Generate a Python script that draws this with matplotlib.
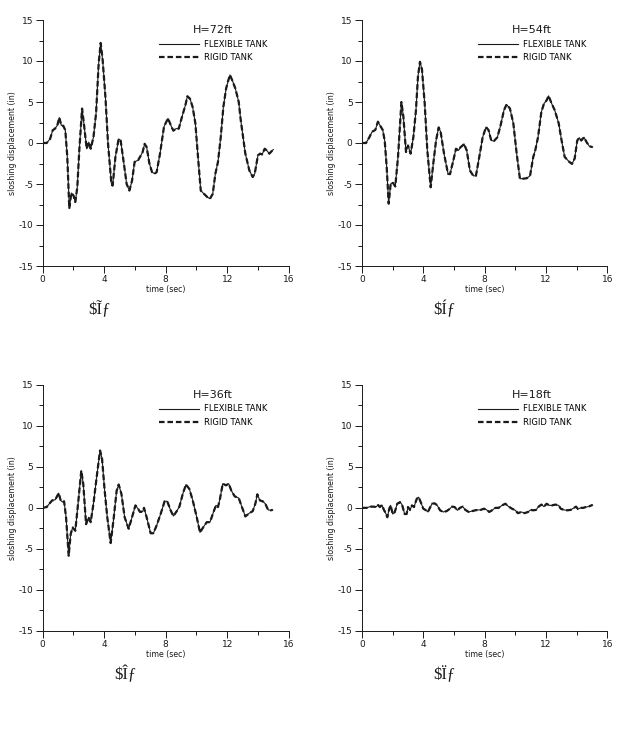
import matplotlib
matplotlib.use('Agg')
import matplotlib.pyplot as plt

plt.rcParams['font.family'] = ['DejaVu Sans']
plt.rcParams['axes.unicode_minus'] = False

# H=72ft (flexible and rigid curves are on top of each other)
t72 = [0, 0.26, 0.48, 0.65, 0.8, 0.95, 1.08, 1.21, 1.34, 1.47, 1.6, 1.73, 1.86, 2.0, 2.12, 2.25,
       2.38, 2.56, 2.69, 2.86, 3.0, 3.12, 3.3, 3.47, 3.64, 3.77, 3.9, 4.08, 4.25, 4.47, 4.55,
       4.73, 4.94, 5.07, 5.25, 5.46, 5.64, 5.81, 5.98, 6.2, 6.33, 6.5, 6.63, 6.76, 6.94, 7.11,
       7.28, 7.41, 7.63, 7.89, 8.15, 8.37, 8.5, 8.67, 8.85, 9.06, 9.28, 9.41, 9.58, 9.75, 9.93,
       10.1, 10.28, 10.49, 10.71, 10.88, 11.06, 11.23, 11.4, 11.58, 11.75, 11.93, 12.05, 12.18,
       12.36, 12.53, 12.75, 12.88, 13.18, 13.44, 13.66, 13.79, 14.0, 14.14, 14.27, 14.44, 14.57,
       14.74, 14.89, 15.0]
flex72 = [0, 0, 0.5, 1.55, 1.75, 2.15, 3.1, 2.15, 2.1, 1.55, -1.7, -8.0, -6.1, -6.4, -7.2, -5.4,
          -0.9, 4.2, 2.2, -0.7, 0.1, -0.7, 0.7, 3.6, 9.7, 12.2, 10.1, 5.6, -0.1, -5.0, -5.2,
          -1.7, 0.5, 0.3, -2.1, -5.0, -5.8, -4.6, -2.3, -2.1, -1.7, -1.1, -0.1, -0.5, -2.5, -3.55,
          -3.75, -3.55, -1.3, 2.0, 3.0, 2.0, 1.5, 1.75, 1.75, 3.2, 4.6, 5.7, 5.4, 4.4, 2.4,
          -1.7, -5.8, -6.2, -6.6, -6.8, -6.2, -3.75, -2.3, 0.7, 4.4, 6.65, 7.5, 8.3,
          7.5, 6.65, 5.0, 2.8, -1.3, -3.35, -4.15, -3.75, -1.5, -1.3, -1.4, -0.7, -0.9,
          -1.3, -1.0, -0.8]
rigid72 = flex72

# H=54ft
t54 = [0, 0.26, 0.48, 0.65, 0.87, 1.04, 1.22, 1.35, 1.48, 1.61, 1.74, 1.87, 2.0, 2.17, 2.35,
       2.57, 2.7, 2.87, 3.0, 3.17, 3.35, 3.52, 3.65, 3.78, 3.91, 4.09, 4.26, 4.48, 4.65, 4.83,
       5.0, 5.13, 5.35, 5.61, 5.74, 5.96, 6.13, 6.3, 6.43, 6.57, 6.65, 6.83, 7.04, 7.26, 7.43,
       7.65, 7.87, 8.09, 8.26, 8.43, 8.61, 8.83, 9.04, 9.26, 9.43, 9.65, 9.87, 10.09, 10.3,
       10.52, 10.74, 10.96, 11.17, 11.3, 11.48, 11.7, 11.87, 12.04, 12.17, 12.35, 12.57, 12.83,
       13.0, 13.22, 13.52, 13.7, 13.87, 14.04, 14.17, 14.3, 14.48, 14.65, 14.83, 15.04]
flex54 = [0, 0, 0.7, 1.35, 1.6, 2.6, 2.0, 1.6, 0.3, -2.9, -7.4, -5.0, -4.8, -5.3, -1.7,
          5.0, 3.2, -1.1, -0.3, -1.3, 0.7, 4.0, 8.1, 9.9, 9.0, 4.8, -0.9, -5.4, -2.5, 0.3,
          1.9, 1.35, -1.3, -3.75, -3.8, -2.1, -0.7, -0.9, -0.5, -0.3, -0.1, -0.9, -3.35, -4.0, -4.0,
          -1.7, 0.7, 1.95, 1.55, 0.3, 0.25, 0.7, 2.15, 4.0, 4.7, 4.2, 2.4, -1.3, -4.35,
          -4.35, -4.3, -4.0, -1.7, -0.9, 0.7, 3.8, 4.8, 5.2, 5.75, 4.9, 4.0, 2.4,
          0.5, -1.7, -2.3, -2.55, -1.9, 0.3, 0.65, 0.3, 0.7, 0.1, -0.4, -0.5]
rigid54 = flex54

# H=36ft
t36 = [0, 0.26, 0.43, 0.61, 0.82, 1.04, 1.17, 1.3, 1.39, 1.52, 1.69, 1.82, 1.95, 2.12, 2.3,
       2.51, 2.64, 2.82, 2.99, 3.12, 3.3, 3.51, 3.73, 3.86, 4.03, 4.2, 4.42, 4.6, 4.81, 4.94,
       5.12, 5.33, 5.59, 5.81, 6.03, 6.2, 6.33, 6.5, 6.59, 6.76, 7.02, 7.2, 7.41, 7.67, 7.93,
       8.1, 8.32, 8.5, 8.72, 8.89, 9.11, 9.32, 9.54, 9.76, 10.02, 10.23, 10.45, 10.67, 10.88,
       11.1, 11.27, 11.4, 11.53, 11.71, 11.92, 12.1, 12.27, 12.49, 12.75, 12.92, 13.18, 13.44,
       13.66, 13.83, 13.96, 14.13, 14.31, 14.48, 14.66, 14.83, 14.96]
flex36 = [0, 0.1, 0.5, 0.9, 1.0, 1.8, 0.9, 0.7, 0.8, -1.15, -5.85, -3.2, -2.4, -2.8, 0.5,
          4.55, 2.9, -2.0, -1.15, -1.75, 0.5, 3.75, 7.0, 6.0, 2.1, -1.15, -4.3, -1.55, 2.1, 2.85,
          1.7, -1.15, -2.55, -1.15, 0.3, -0.1, -0.5, -0.45, 0.0, -1.15, -3.1, -3.1, -2.15, -0.75, 0.8,
          0.8, -0.3, -1.0, -0.4, 0.15, 1.7, 2.85, 2.3, 0.9, -1.15, -3.0, -2.35, -1.75, -1.75,
          -0.55, 0.3, 0.1, 1.1, 2.95, 2.75, 2.95, 2.1, 1.4, 1.2, 0.3, -1.05, -0.65,
          -0.4, 0.5, 1.65, 0.9, 0.8, 0.5, -0.25, -0.3, -0.25]
rigid36 = flex36

# H=18ft
t18 = [0, 0.3, 0.52, 0.74, 0.91, 1.04, 1.17, 1.3, 1.43, 1.57, 1.65, 1.78, 1.87, 2.0, 2.13, 2.3,
       2.48, 2.61, 2.78, 2.91, 3.0, 3.13, 3.26, 3.39, 3.57, 3.7, 3.83, 4.0, 4.17, 4.3, 4.43,
       4.57, 4.74, 4.91, 5.09, 5.3, 5.52, 5.74, 5.87, 6.04, 6.22, 6.39, 6.57, 6.74, 6.96, 7.17,
       7.39, 7.57, 7.74, 7.96, 8.13, 8.3, 8.48, 8.7, 8.91, 9.13, 9.35, 9.57, 9.78, 10.0, 10.17,
       10.39, 10.61, 10.83, 11.0, 11.17, 11.35, 11.52, 11.7, 11.87, 12.04, 12.22, 12.39, 12.61,
       12.83, 12.96, 13.17, 13.39, 13.61, 13.83, 13.96, 14.09, 14.26, 14.43, 14.61, 14.78,
       14.96, 15.04]
flex18 = [0, 0, 0.15, 0.15, 0.1, 0.35, 0.1, 0.35, -0.25, -0.75, -1.15, -0.1, 0.3, -0.75, -0.55, 0.5,
          0.7, 0.4, -0.75, -0.75, 0.1, -0.25, 0.3, 0.1, 1.1, 1.3, 0.7, -0.1, -0.3, -0.5, 0.0,
          0.5, 0.55, 0.3, -0.3, -0.5, -0.4, -0.1, 0.15, 0.1, -0.3, 0.0, 0.15, -0.25, -0.5, -0.4,
          -0.3, -0.25, -0.25, -0.1, -0.25, -0.5, -0.3, 0.0, 0.0, 0.3, 0.5, 0.15, -0.1, -0.3, -0.65,
          -0.5, -0.65, -0.5, -0.25, -0.3, -0.25, 0.15, 0.4, 0.15, 0.5, 0.3, 0.3, 0.4,
          0.3, -0.1, -0.25, -0.3, -0.25, 0.0, 0.15, -0.15, 0.0, 0.0, 0.1, 0.15,
          0.3, 0.35]
rigid18 = flex18

titles = ['H=72ft', 'H=54ft', 'H=36ft', 'H=18ft']
# garbled panel captions as they appear under each plot
captions = ['$\u0128\u0192', '$\u00cd\u0192', '$\u00ce\u0192', '$\u00cf\u0192']
xticks = [0, 4, 8, 12, 16]
yticks = [-15, -10, -5, 0, 5, 10, 15]

panels = [(t72, flex72, rigid72), (t54, flex54, rigid54),
          (t36, flex36, rigid36), (t18, flex18, rigid18)]

fig = plt.figure(figsize=(6.17, 7.34), dpi=100)
W, H = 617, 734
# axes boxes in pixels: left, top, right, bottom
boxes = [(42.7, 20, 288.7, 266), (362, 20, 607.3, 266),
         (42.7, 385, 288.7, 630.7), (362, 385, 607.3, 630.7)]
cap_pos = [(88, 314), (433, 314), (114, 679), (433, 679)]

ink = '#1a1a1a'
for i, (t, flex, rigid) in enumerate(panels):
    l, tp, r, b = boxes[i]
    ax = fig.add_axes([l / W, 1 - b / H, (r - l) / W, (b - tp) / H])
    ax.plot(t, flex, color=ink, linestyle='solid', linewidth=0.8, label='FLEXIBLE TANK')
    ax.plot(t, rigid, color=ink, linestyle=(0, (2.5, 1.3)), linewidth=1.6, label='RIGID TANK')

    ax.set_xlim(0, 16)
    ax.set_ylim(-15, 15)
    ax.set_xticks(xticks)
    ax.set_yticks(yticks)
    ax.set_xticks([2, 6, 10, 14], minor=True)
    ax.set_yticks([-12.5, -7.5, -2.5, 2.5, 7.5, 12.5], minor=True)
    ax.tick_params(which='major', length=4.8, width=0.7, labelsize=6.5, pad=2, colors=ink)
    ax.tick_params(which='minor', length=2.8, width=0.7, colors=ink)
    for s in ['top', 'right']:
        ax.spines[s].set_visible(False)
    for s in ['left', 'bottom']:
        ax.spines[s].set_linewidth(0.7)
        ax.spines[s].set_color(ink)

    ax.set_xlabel('time (sec)', fontsize=5.7, labelpad=0.5, color=ink)
    ax.set_ylabel('sloshing displacement (in)', fontsize=5.7, labelpad=1, color=ink)

    leg = ax.legend(loc='upper left', bbox_to_anchor=(0.473, 0.98), frameon=False,
                    fontsize=6, title=titles[i], title_fontsize=8, borderpad=0,
                    borderaxespad=0, handlelength=4.75, handletextpad=0.6,
                    labelspacing=0.55)
    leg.get_title().set_color(ink)

    cx, cy = cap_pos[i]
    fig.text(cx / W, 1 - cy / H, captions[i], fontsize=12, family='Liberation Serif',
             color=ink, va='baseline', parse_math=False)

fig.savefig('out.png', dpi=100)
